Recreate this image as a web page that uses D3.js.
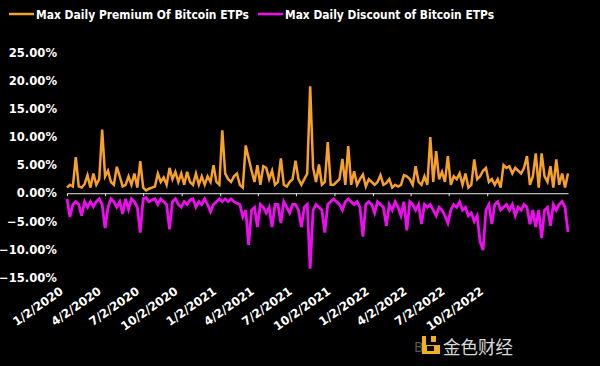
<!DOCTYPE html>
<html><head><meta charset="utf-8">
<script src="https://cdn.jsdelivr.net/npm/d3@7"></script>
<style>html,body{margin:0;padding:0;background:#000;}svg{display:block;}</style>
</head><body>
<svg id="chart" width="600" height="366"></svg>
<script>
const seriesNames = ["Max Daily Premium Of Bitcoin ETPs", "Max Daily Discount of Bitcoin ETPs"];
const xTickLabels = ["1/2/2020","4/2/2020","7/2/2020","10/2/2020","1/2/2021","4/2/2021","7/2/2021","10/2/2021","1/2/2022","4/2/2022","7/2/2022","10/2/2022"];
const yTickValues = [25, 20, 15, 10, 5, 0, -5, -10, -15];
const firstDate = "1/2/2020";   // first weekly observation
const stepDays = 7;

const premium = [
 1.0,1.5,1.2,6.4,1.2,1.0,1.6,3.2,1.0,3.5,
 1.5,2.5,11.3,3.0,4.0,2.0,1.5,4.7,3.0,1.2,
 1.5,3.0,1.5,3.5,1.0,5.7,1.0,0.5,0.8,1.0,
 1.2,3.5,2.0,2.8,1.5,4.5,2.5,3.8,2.0,3.5,
 1.5,3.8,2.0,1.5,3.5,1.5,3.0,1.5,3.0,2.0,
 5.0,2.0,1.5,11.2,3.5,2.5,2.0,3.0,3.5,1.5,
 1.0,8.5,6.2,4.0,2.0,5.0,1.5,4.8,4.5,2.5,
 4.0,1.5,2.0,6.2,1.5,1.2,2.0,2.5,5.8,2.5,
 1.5,2.5,3.5,19.0,4.5,2.0,5.1,1.5,2.0,9.1,
 1.5,1.5,2.0,2.5,6.1,1.5,8.4,1.5,3.9,1.5,
 2.5,3.3,1.2,2.5,2.0,1.5,2.0,3.2,1.5,1.8,
 2.5,1.0,1.5,1.2,1.5,3.2,3.0,2.5,1.5,4.8,
 2.0,1.5,3.0,1.5,10.0,2.0,7.5,2.5,3.8,2.0,
 6.6,1.5,3.0,2.5,3.5,1.5,3.5,1.0,1.5,6.0,
 2.5,3.0,4.0,4.5,2.0,2.5,1.5,2.5,1.0,5.0,
 4.5,4.8,3.5,4.5,4.0,3.5,4.5,6.6,1.5,3.0,
 7.1,1.0,7.1,3.0,2.0,4.8,1.0,6.0,1.5,3.5,
 1.0,3.5
];
const discount = [
 -1.0,-4.2,-2.0,-1.5,-2.0,-4.0,-1.5,-2.5,-1.5,-2.4,
 -1.5,-1.0,-2.0,-6.2,-2.5,-1.0,-1.5,-2.5,-1.5,-3.7,
 -1.0,-2.9,-1.0,-1.5,-2.5,-7.0,-1.0,-0.8,-1.5,-1.2,
 -1.0,-2.0,-1.0,-1.5,-2.0,-6.4,-1.5,-1.0,-2.0,-2.5,
 -1.5,-2.0,-1.2,-1.0,-2.5,-1.5,-2.0,-1.0,-2.0,-3.3,
 -2.0,-1.5,-1.0,-1.5,-1.0,-1.5,-1.0,-1.5,-1.8,-2.0,
 -4.2,-3.0,-9.2,-3.0,-2.5,-6.0,-2.0,-2.5,-3.5,-2.5,
 -6.0,-2.0,-2.0,-5.3,-1.5,-2.5,-3.5,-2.0,-2.0,-3.0,
 -6.0,-2.5,-2.0,-13.4,-3.0,-2.0,-2.5,-3.0,-7.0,-2.0,
 -1.5,-1.0,-1.5,-2.0,-3.0,-1.5,-1.0,-1.5,-2.0,-1.5,
 -2.5,-7.7,-2.0,-1.5,-2.0,-3.5,-1.5,-2.0,-2.5,-5.8,
 -2.0,-3.0,-1.5,-2.5,-4.0,-1.5,-6.6,-1.5,-2.0,-3.0,
 -2.0,-5.5,-2.0,-2.5,-2.0,-3.0,-4.0,-2.5,-3.0,-4.0,
 -5.3,-3.0,-2.0,-2.5,-1.5,-3.0,-2.5,-4.0,-3.5,-5.0,
 -4.0,-8.6,-10.1,-3.0,-2.0,-5.5,-2.0,-1.5,-3.0,-2.5,
 -2.0,-3.0,-2.0,-4.0,-2.5,-3.0,-2.0,-2.5,-5.5,-3.0,
 -6.0,-3.0,-8.0,-3.0,-2.5,-5.8,-2.0,-3.0,-2.0,-1.5,
 -2.5,-6.9
];

const colors = ["#F7A128", "#F00CF0"];
const parse = d3.timeParse("%m/%d/%Y");
const start = parse(firstDate);
const dates = premium.map((_, i) => d3.timeDay.offset(start, i * stepDays));
const tickDates = xTickLabels.map(parse);

const svg = d3.select("#chart");
svg.append("rect").attr("width", 600).attr("height", 366).attr("fill", "#000");

const x = d3.scaleTime().domain(d3.extent(dates)).range([67, 568]);
const y = d3.scaleLinear().domain([-15, 25]).range([277.6, 52.6]);

const font = "'DejaVu Sans', Verdana, sans-serif";

// y axis labels
const yAxis = svg.append("g").attr("transform", "translate(60,0)")
  .call(d3.axisLeft(y).tickValues(yTickValues).tickSize(0).tickPadding(3)
    .tickFormat(d => d3.format(".2f")(d) + "%"));
yAxis.select(".domain").remove();
yAxis.selectAll("text").attr("fill", "#fff").attr("font-family", font)
  .attr("font-weight", "bold").attr("font-size", 11.6);

// zero axis line
const zeroAxis = svg.append("g").attr("transform", `translate(0,${y(0)})`)
  .call(d3.axisBottom(x).tickValues(tickDates).tickSize(3).tickSizeOuter(0).tickFormat(""));
zeroAxis.select(".domain").attr("stroke", "#e8e8e8").attr("stroke-width", 1);
zeroAxis.selectAll(".tick line").attr("stroke", "#e8e8e8");

// series
const line = d3.line().x((d, i) => x(dates[i])).y(d => y(d));
svg.append("path").datum(discount).attr("d", line).attr("fill", "none")
  .attr("stroke", colors[1]).attr("stroke-width", 2.8).attr("stroke-linejoin", "miter");
svg.append("path").datum(premium).attr("d", line).attr("fill", "none")
  .attr("stroke", colors[0]).attr("stroke-width", 2.5).attr("stroke-linejoin", "miter");

// x tick labels (rotated)
svg.append("g").selectAll("text").data(tickDates).join("text")
  .attr("transform", d => `translate(${x(d) - 3},293) rotate(-35)`)
  .attr("text-anchor", "end").attr("fill", "#fff").attr("font-family", font)
  .attr("font-weight", "bold").attr("font-size", 11.8)
  .text((d, i) => xTickLabels[i]);

// legend
const legendX = [9, 258];
const legend = svg.append("g");
seriesNames.forEach((name, i) => {
  legend.append("line").attr("x1", legendX[i]).attr("x2", legendX[i] + 25)
    .attr("y1", 14).attr("y2", 14).attr("stroke", colors[i]).attr("stroke-width", 2.5);
  legend.append("text").attr("x", legendX[i] + 27).attr("y", 18.5)
    .attr("fill", "#fff").attr("font-family", font).attr("font-weight", "bold")
    .attr("font-size", 12.5).attr("textLength", [213, 209][i])
    .attr("lengthAdjust", "spacingAndGlyphs").text(name);
});

// watermark
const wm = svg.append("g");
wm.append("text").attr("x", 414).attr("y", 352).attr("fill", "#555")
  .attr("font-family", font).attr("font-size", 14).text("Bi");
wm.append("rect").attr("x", 422).attr("y", 345).attr("width", 18).attr("height", 9).attr("fill", "#F2B01E");
wm.append("rect").attr("x", 422).attr("y", 336).attr("width", 4).attr("height", 12).attr("fill", "#F2B01E");
wm.append("rect").attr("x", 431).attr("y", 336).attr("width", 5).attr("height", 6).attr("fill", "#F2B01E");
wm.append("rect").attr("x", 427).attr("y", 346).attr("width", 7).attr("height", 5).attr("fill", "#000");
wm.append("text").attr("x", 443).attr("y", 354).attr("fill", "#d8d8d8")
  .attr("font-family", "'Noto Sans CJK SC', sans-serif").attr("font-size", 18.5)
  .attr("textLength", 70).attr("lengthAdjust", "spacingAndGlyphs").text("金色财经");
</script>
</body></html>
